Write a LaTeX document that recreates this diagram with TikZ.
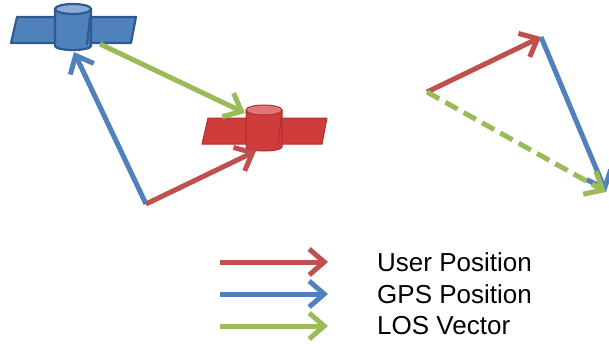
\documentclass[tikz,border=0pt]{standalone}
\usepackage{fontspec}
\setmainfont{Liberation Sans}
\usetikzlibrary{arrows.meta, positioning}
\definecolor{userred}{HTML}{C0504D}
\definecolor{satred}{HTML}{D03B3B}
\definecolor{satreddark}{HTML}{B02E2E}
\definecolor{satredlight}{HTML}{E07777}
\definecolor{gpsblue}{HTML}{4F81BD}
\definecolor{gpsdark}{HTML}{30598C}
\definecolor{gpslight}{HTML}{8AABD6}
\definecolor{losgreen}{HTML}{9BBB59}

\begin{document}
\begin{tikzpicture}[x=1pt, y=-1pt, >={Straight Barb[length=15pt, width=26pt]},
    vec/.style={->, line width=5pt},
    user/.style={vec, draw=userred},
    gps/.style={vec, draw=gpsblue},
    los/.style={vec, draw=losgreen},
    legtext/.style={font=\fontsize{26}{30}\selectfont, inner sep=0pt},
    pics/satellite/.style n args={3}{code={
        \path[fill=#1, draw=#2, line join=round]
            (-56,-13) -- (63,-13) -- (58,13) -- (-62,13) -- cycle;
        \path[fill=#1, draw=#2]
            (-18,-21) -- (-18,16) arc[start angle=180, end angle=0, x radius=18, y radius=4]
            -- (18,-21) -- cycle;
        \path[fill=#3, draw=#2] (0,-21) ellipse [x radius=18, y radius=5];
        \draw[#2] (17,-13) -- (14,15);
    }}]
    \useasboundingbox (0,0) rectangle (609,343);

    % left: user, gps and los vectors
    \pic[line width=2.2pt] at (73,30) {satellite={gpsblue}{gpsdark}{gpslight}};
    \pic[line width=1pt] at (264,131) {satellite={satred}{satreddark}{satredlight}};

    \coordinate (o) at (146,204);
    \coordinate (sat) at (74,52);
    \coordinate (usr) at (256,151);
    \coordinate (los0) at (100,44);
    \coordinate (los1) at (245,113);

    \path
    (o) edge [gps] (sat)
    (o) edge [user] (usr)
    (los0) edge [los] (los1);

    % right: vector triangle
    \coordinate (r0) at (427,92);
    \coordinate (r1) at (541,37);
    \coordinate (r2) at (606,192);

    \path
    (r0) edge [user] (r1)
    (r1) edge [gps] (r2)
    (r0) edge [los, dash pattern=on 14pt off 7pt] (r2);

    % legend
    \coordinate (k1) at (220,262);
    \coordinate (k1e) at (328,262);
    \coordinate (k2) at (220,294);
    \coordinate (k2e) at (328,294);
    \coordinate (k3) at (220,326);
    \coordinate (k3e) at (328,326);
    \node[legtext, anchor=west] (t1) [right=49pt of k1e] {User Position};
    \node[legtext, anchor=west] (t2) [right=49pt of k2e] {GPS Position};
    \node[legtext, anchor=west] (t3) [right=49pt of k3e] {LOS Vector};

    \path
    (k1) edge [user] (k1e)
    (k2) edge [gps] (k2e)
    (k3) edge [los] (k3e);
\end{tikzpicture}
\end{document}
